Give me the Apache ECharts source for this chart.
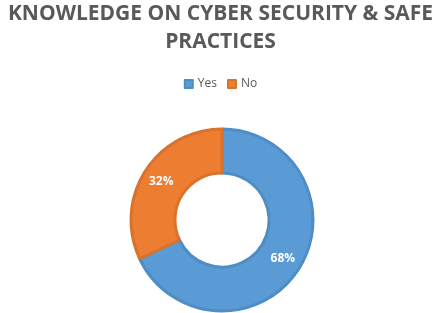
<!DOCTYPE html>
<html><head><meta charset="utf-8">
<script src="https://cdn.jsdelivr.net/npm/echarts@6/dist/echarts.min.js"></script>
<style>html,body{margin:0;padding:0;background:#fff}#c{width:441px;height:313px}</style>
</head><body><div id="c"></div>
<script>
const categories = ['Yes', 'No'];
const values = [68, 32];
const colors = ['#5B9BD5', '#ED7D31'];
const borders = ['#4F8DC6', '#D9722B'];
const chart = echarts.init(document.getElementById('c'));
chart.setOption({
  animation: false,
  title: {
    text: 'KNOWLEDGE ON CYBER SECURITY & SAFE\nPRACTICES',
    left: 'center', top: 0, padding: 0,
    textStyle: {fontFamily: 'Open Sans', fontWeight: 'bold', fontSize: 21, color: '#595959', lineHeight: 28}
  },
  legend: {
    data: categories, top: 73, left: 'center',
    itemWidth: 8, itemHeight: 8, itemGap: 10, icon: 'rect',
    textStyle: {fontFamily: 'Open Sans', fontSize: 12, color: '#595959'}
  },
  series: [{
    type: 'pie', radius: [47, 91], center: [222, 220], startAngle: 90,
    label: {show: true, position: 'inside', formatter: '{d}%', color: '#fff', fontFamily: 'Open Sans', fontWeight: 'bold', fontSize: 12},
    labelLine: {show: false},
    data: categories.map((c, i) => ({name: c, value: values[i], itemStyle: {color: colors[i], borderColor: borders[i], borderWidth: 3}}))
  }]
});
</script></body></html>
